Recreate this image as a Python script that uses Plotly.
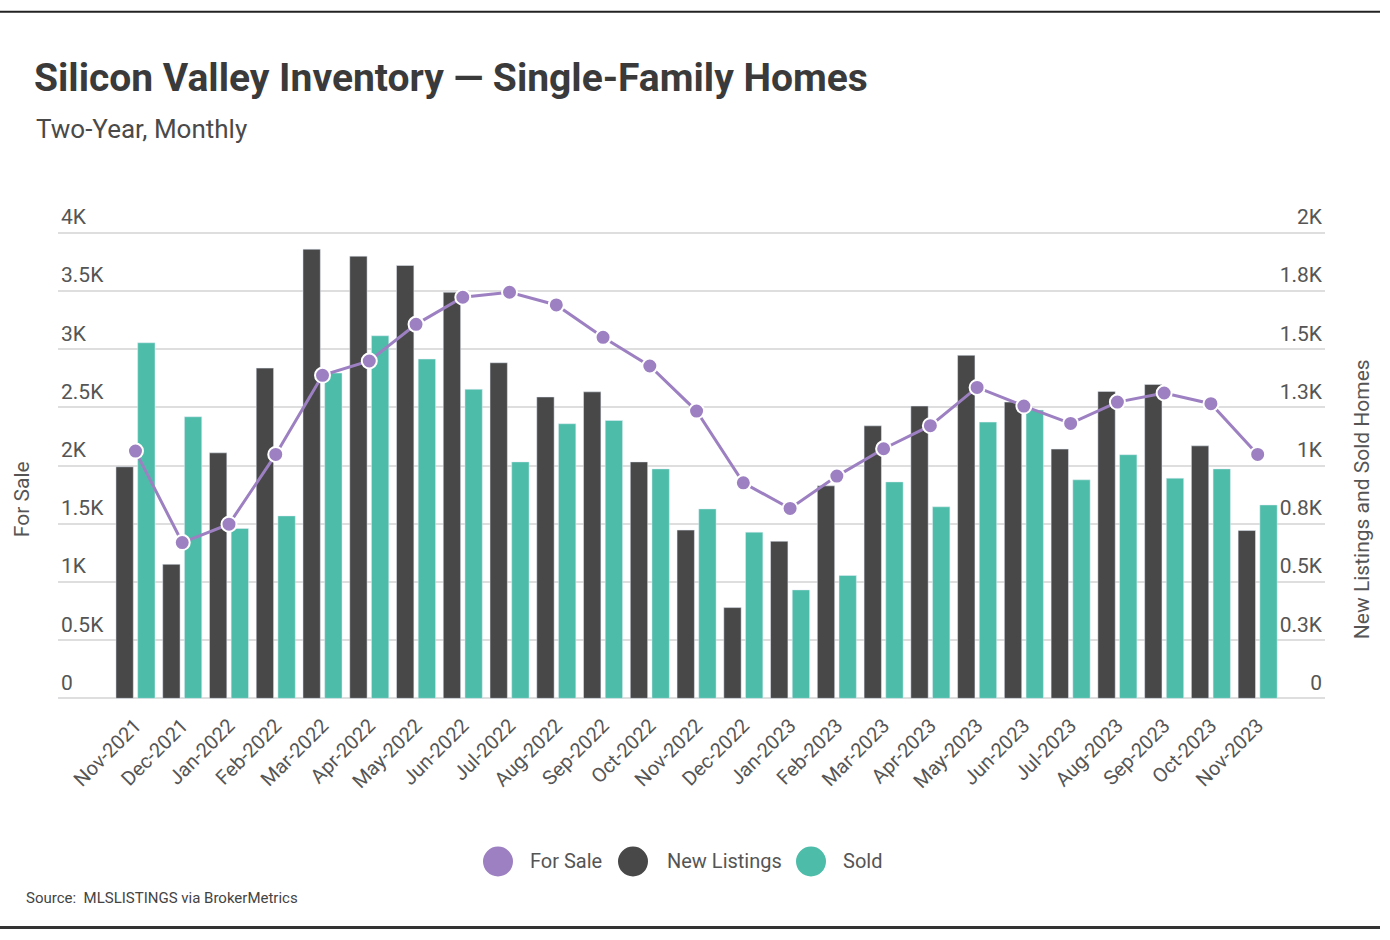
import plotly.graph_objects as go

months = ["Nov-2021","Dec-2021","Jan-2022","Feb-2022","Mar-2022","Apr-2022","May-2022","Jun-2022",
          "Jul-2022","Aug-2022","Sep-2022","Oct-2022","Nov-2022","Dec-2022","Jan-2023","Feb-2023",
          "Mar-2023","Apr-2023","May-2023","Jun-2023","Jul-2023","Aug-2023","Sep-2023","Oct-2023","Nov-2023"]
for_sale = [2125,1339,1497,2096,2776,2899,3214,3447,3490,3381,3103,2856,2469,1852,1632,1910,
            2145,2343,2672,2512,2363,2546,2624,2532,2096]
new_listings = [995,576,1055,1419,1930,1900,1860,1745,1442,1295,1317,1016,723,390,675,913,
                1171,1256,1474,1273,1071,1319,1349,1085,721]
sold = [1528,1210,730,784,1398,1558,1458,1328,1016,1180,1194,986,814,714,466,528,
        930,823,1187,1239,939,1047,946,986,831]

left_tickvals = [0,500,1000,1500,2000,2500,3000,3500,4000]
left_ticktext = ["0","0.5K","1K","1.5K","2K","2.5K","3K","3.5K","4K"]
right_tickvals = [0,250,500,750,1000,1250,1500,1750,2000]
right_ticktext = ["0","0.3K","0.5K","0.8K","1K","1.3K","1.5K","1.8K","2K"]

PURPLE = "#9d80c2"
DARK = "#484848"
TEAL = "#4dbda9"
TXT = "#555555"
FONT = "Roboto, sans-serif"

fig = go.Figure()
fig.add_trace(go.Bar(x=months, y=new_listings, name="New Listings", marker_color=DARK,
                     yaxis="y", showlegend=False))
fig.add_trace(go.Bar(x=months, y=sold, name="Sold", marker_color=TEAL,
                     yaxis="y", showlegend=False))
fig.add_trace(go.Scatter(x=months, y=for_sale, name="For Sale", mode="lines+markers",
                         line=dict(color=PURPLE, width=3),
                         marker=dict(size=15, color=PURPLE, line=dict(color="white", width=2)),
                         yaxis="y2", showlegend=False))

W, H = 1390, 940
# left axis: 0 at y=698px, 4000 at y=233px
PXK = 465 / 4000.0
LMIN, LMAX = -40, 4300
L, R = 58, 65
T = 698 - LMAX * PXK
B = H - (698 - LMIN * PXK)
pw, ph = W - L - R, H - T - B

def px(x):
    return (x - L) / pw

def py(y):
    return (H - B - y) / ph

fig.update_layout(
    width=W, height=H,
    margin=dict(l=L, r=R, t=T, b=B),
    paper_bgcolor="white", plot_bgcolor="white",
    font=dict(family=FONT, color=TXT, size=20),
    barmode="group", bargap=0.072, bargroupgap=0.2,
    xaxis=dict(type="category", range=[-1.657, 25.44], tickangle=-45,
               showgrid=False, showline=False, zeroline=False, ticks="",
               ticklabelstandoff=6,
               tickfont=dict(size=20, color=TXT, family=FONT)),
    yaxis=dict(side="right", range=[LMIN / 2, LMAX / 2], tickvals=right_tickvals, ticktext=right_ticktext,
               showgrid=True, gridcolor="#dedede", gridwidth=1.5, zeroline=False,
               ticklabelposition="inside", ticklabelshift=-16, ticklabelstandoff=0,
               tickfont=dict(size=21, color=TXT, family=FONT), showline=False),
    yaxis2=dict(side="left", overlaying="y", range=[LMIN, LMAX], tickvals=left_tickvals,
                ticktext=left_ticktext, showgrid=False, zeroline=False,
                ticklabelposition="inside", ticklabelshift=-16, ticklabelstandoff=0,
                tickfont=dict(size=21, color=TXT, family=FONT), showline=False),
    showlegend=False,
)

ann = []
ann.append(dict(text="<b>Silicon Valley Inventory — Single-Family Homes</b>", x=px(32), y=py(78),
                xref="paper", yref="paper", xanchor="left", yanchor="middle", showarrow=False,
                font=dict(size=39, color="#3a3a3a", family=FONT)))
ann.append(dict(text="Two-Year, Monthly", x=px(34), y=py(129), xref="paper", yref="paper",
                xanchor="left", yanchor="middle", showarrow=False,
                font=dict(size=26, color="#4a4a4a", family=FONT)))
ann.append(dict(text="For Sale", x=px(22), y=py(499), xref="paper", yref="paper",
                xanchor="center", yanchor="middle", textangle=-90, showarrow=False,
                font=dict(size=21, color=TXT, family=FONT)))
ann.append(dict(text="New Listings and Sold Homes", x=px(1362), y=py(499), xref="paper", yref="paper",
                xanchor="center", yanchor="middle", textangle=-90, showarrow=False,
                font=dict(size=21, color=TXT, family=FONT)))
ann.append(dict(text="Source:  MLSLISTINGS via BrokerMetrics", x=px(24), y=py(897), xref="paper",
                yref="paper", xanchor="left", yanchor="middle", showarrow=False,
                font=dict(size=15, color="#444444", family=FONT)))

legend_items = [("For Sale", PURPLE, 498, 528), ("New Listings", DARK, 633, 665), ("Sold", TEAL, 811, 841)]
shapes = []
for name, col, cx, tx in legend_items:
    rad = 15
    shapes.append(dict(type="circle", xref="paper", yref="paper",
                       x0=px(cx - rad), x1=px(cx + rad), y0=py(861 + rad), y1=py(861 - rad),
                       fillcolor=col, line=dict(width=0)))
    ann.append(dict(text=name, x=px(tx), y=py(861), xref="paper", yref="paper",
                    xanchor="left", yanchor="middle", showarrow=False,
                    font=dict(size=20, color=TXT, family=FONT)))

shapes.append(dict(type="line", xref="paper", yref="paper", x0=px(0), x1=px(1380), y0=py(12), y1=py(12),
                   line=dict(color="#222222", width=2)))
shapes.append(dict(type="line", xref="paper", yref="paper", x0=px(0), x1=px(1380), y0=py(927), y1=py(927),
                   line=dict(color="#333333", width=3)))

fig.update_layout(annotations=ann, shapes=shapes)
fig.write_html("out.html", config={"displayModeBar": False},
               post_script="document.body.style.margin='0px';")
